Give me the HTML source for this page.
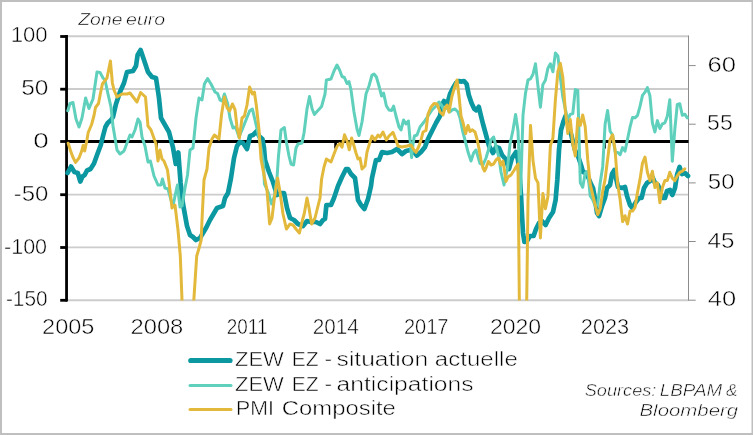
<!DOCTYPE html>
<html><head><meta charset="utf-8"><title>Zone euro</title>
<style>
html,body{margin:0;padding:0;background:#fff;}
body{width:753px;height:435px;overflow:hidden;font-family:"Liberation Sans",sans-serif;}
svg{display:block;}
text{font-family:"Liberation Sans",sans-serif;fill:#000;stroke:#fff;stroke-width:0.5px;}
.tx{filter:grayscale(1);}
</style></head><body>
<svg width="753" height="435" viewBox="0 0 753 435">
<rect x="0" y="0" width="753" height="435" fill="#bfbfbf"/>
<rect x="2" y="2" width="749.5" height="431" fill="#ffffff"/>
<defs><clipPath id="plot"><rect x="60" y="30" width="640" height="270.6"/></clipPath></defs>
<g stroke="#cccccc" stroke-width="1.9"><line x1="67" x2="688.5" y1="36.2" y2="36.2"/><line x1="67" x2="688.5" y1="89.0" y2="89.0"/><line x1="67" x2="688.5" y1="194.6" y2="194.6"/><line x1="67" x2="688.5" y1="247.4" y2="247.4"/><line x1="67" x2="688.5" y1="300.2" y2="300.2"/></g>
<line x1="688.5" x2="688.5" y1="35.5" y2="300.7" stroke="#8c8c8c" stroke-width="1"/>
<g stroke="#8c8c8c" stroke-width="1"><line x1="688.5" x2="695.7" y1="300.2" y2="300.2"/><line x1="688.5" x2="695.7" y1="241.5" y2="241.5"/><line x1="688.5" x2="695.7" y1="182.9" y2="182.9"/><line x1="688.5" x2="695.7" y1="124.2" y2="124.2"/><line x1="688.5" x2="695.7" y1="65.6" y2="65.6"/></g>
<line x1="66.55" x2="66.55" y1="35.0" y2="301.6" stroke="#000" stroke-width="2.8"/>
<g stroke="#000" stroke-width="2.8"><line x1="60.2" x2="67" y1="36.5" y2="36.5"/><line x1="60.2" x2="67" y1="89.2" y2="89.2"/><line x1="60.2" x2="67" y1="141.5" y2="141.5"/><line x1="60.2" x2="67" y1="194.7" y2="194.7"/><line x1="60.2" x2="67" y1="247.5" y2="247.5"/><line x1="60.2" x2="67" y1="300.3" y2="300.3"/></g><g stroke="#000" stroke-width="2.7"><line x1="156.6" x2="156.6" y1="141.5" y2="148.5"/><line x1="246.1" x2="246.1" y1="141.5" y2="148.5"/><line x1="335.6" x2="335.6" y1="141.5" y2="148.5"/><line x1="425.2" x2="425.2" y1="141.5" y2="148.5"/><line x1="514.6" x2="514.6" y1="141.5" y2="148.5"/><line x1="604.6" x2="604.6" y1="141.5" y2="148.5"/></g>
<line x1="66" x2="688.5" y1="141.5" y2="141.5" stroke="#000" stroke-width="2.9"/>
<g clip-path="url(#plot)" fill="none" stroke-linejoin="round" stroke-linecap="round">
<path d="M67.6,173.0 L71.0,166.5 L74.4,172.0 L77.8,173.0 L80.3,181.5 L82.4,176.5 L84.7,175.0 L87.0,170.5 L90.5,169.0 L94.0,163.5 L97.4,154.0 L100.8,145.0 L103.0,136.0 L105.4,127.0 L107.7,123.0 L111.0,120.0 L113.0,117.0 L116.0,104.0 L120.0,92.0 L124.0,83.0 L127.0,72.0 L133.0,71.0 L136.0,66.0 L137.6,55.0 L140.6,50.0 L144.0,60.0 L148.0,72.0 L152.0,77.0 L156.0,78.0 L159.0,98.0 L161.0,118.0 L165.0,125.0 L169.0,132.0 L173.0,147.5 L175.8,164.0 L178.3,152.5 L180.6,183.0 L183.0,204.0 L187.0,226.0 L190.0,235.0 L193.0,237.0 L196.0,240.0 L200.0,238.0 L203.0,233.0 L206.0,228.0 L210.0,220.0 L217.0,208.0 L223.0,206.0 L225.0,198.0 L228.0,193.0 L231.0,178.0 L234.0,158.0 L237.0,146.0 L240.0,142.0 L243.0,143.0 L247.0,149.0 L250.0,136.0 L253.0,135.0 L257.0,131.0 L259.0,136.0 L262.4,139.0 L264.0,148.0 L265.0,160.0 L269.0,172.0 L273.0,182.0 L277.0,195.0 L281.0,193.0 L284.0,193.0 L287.0,208.0 L290.0,218.0 L294.0,220.0 L298.0,224.0 L303.0,226.0 L307.0,221.0 L311.0,222.0 L316.0,222.0 L320.0,224.0 L323.0,220.0 L325.0,219.0 L326.4,205.0 L331.0,205.0 L334.0,198.0 L338.0,186.0 L342.0,177.0 L346.0,169.0 L348.0,169.0 L351.0,174.0 L355.0,178.0 L358.0,200.0 L361.0,205.0 L364.4,209.0 L368.0,199.0 L371.0,186.0 L372.0,178.0 L376.0,160.0 L379.0,160.0 L382.0,152.0 L387.0,153.0 L392.0,152.0 L397.0,149.0 L402.0,154.0 L406.0,151.0 L410.0,150.0 L413.0,151.0 L417.0,155.6 L421.0,152.0 L425.0,147.0 L428.0,139.0 L432.0,131.0 L436.0,123.0 L440.0,116.0 L442.0,105.0 L444.0,101.0 L447.0,105.0 L450.0,94.0 L453.0,88.0 L456.0,83.0 L459.0,81.0 L461.0,81.6 L464.0,81.0 L466.6,84.0 L468.8,95.0 L471.5,103.0 L474.2,108.8 L476.3,110.3 L478.8,106.8 L481.0,116.0 L483.0,124.0 L485.5,133.0 L489.0,146.0 L493.0,153.0 L496.0,147.0 L499.0,148.0 L502.0,155.0 L505.6,159.0 L509.0,169.0 L512.0,158.0 L516.0,152.0 L518.0,160.0 L519.6,175.0 L521.0,195.0 L522.0,215.0 L523.0,233.0 L524.4,242.0 L527.0,241.0 L530.0,236.0 L533.6,236.0 L536.0,229.0 L539.0,223.0 L542.0,221.0 L545.6,225.0 L549.0,218.0 L553.0,212.0 L555.6,200.0 L557.3,180.0 L559.0,150.0 L561.0,130.0 L563.6,121.0 L565.5,116.0 L568.0,123.0 L570.0,130.0 L572.0,138.0 L575.0,150.0 L578.0,156.0 L581.0,165.0 L583.0,172.0 L586.0,173.0 L589.0,179.0 L591.0,184.0 L593.0,188.0 L595.0,199.0 L597.0,213.0 L599.0,216.0 L602.0,206.0 L605.0,198.0 L607.0,188.0 L610.0,185.0 L612.0,174.0 L614.4,170.0 L616.0,178.0 L618.0,187.0 L622.0,188.0 L625.0,187.0 L627.0,196.0 L630.0,205.0 L632.4,208.0 L636.0,202.0 L639.0,198.0 L641.6,198.0 L644.0,188.0 L647.0,183.0 L650.0,181.0 L652.4,177.0 L655.0,183.0 L658.0,185.0 L660.0,190.0 L662.0,198.0 L665.0,198.0 L667.0,191.0 L670.0,190.0 L672.4,195.0 L675.0,188.0 L677.0,175.0 L679.6,167.0 L682.0,174.0 L685.0,173.0 L688.0,176.0" stroke="#0b98a0" stroke-width="4.7"/>
<path d="M67.8,110.7 L70.0,103.5 L73.0,102.5 L76.0,119.0 L79.0,127.0 L82.0,118.0 L85.6,98.0 L89.0,108.5 L93.0,99.0 L97.0,72.0 L100.0,72.4 L103.0,78.0 L105.0,80.0 L108.0,94.0 L111.0,107.0 L113.0,126.0 L117.0,150.0 L120.0,154.0 L124.0,151.0 L127.0,143.0 L130.0,135.0 L132.0,137.0 L135.0,130.0 L138.0,119.0 L140.0,122.0 L142.0,137.0 L145.0,146.0 L148.0,162.0 L150.4,161.0 L154.0,176.0 L158.0,185.0 L161.0,185.0 L162.4,179.0 L165.0,188.0 L168.0,189.0 L171.0,200.0 L173.0,206.0 L175.0,196.0 L177.4,185.0 L180.0,207.0 L182.0,206.0 L185.0,188.0 L187.5,175.0 L190.0,150.0 L193.0,148.0 L196.0,118.0 L199.0,98.0 L202.0,100.0 L204.4,84.0 L207.6,78.6 L211.0,84.0 L215.0,92.0 L217.6,93.5 L220.0,100.0 L222.4,101.0 L224.4,94.0 L227.6,103.5 L230.0,118.0 L233.0,128.0 L235.6,127.0 L239.0,137.0 L242.0,130.0 L246.0,120.0 L249.6,111.0 L252.4,109.0 L255.0,120.0 L258.0,133.0 L261.0,148.0 L263.6,164.0 L264.4,184.0 L268.0,192.0 L271.6,204.0 L274.4,196.0 L277.0,178.0 L278.4,157.0 L281.0,130.0 L284.4,127.6 L286.4,142.0 L289.0,156.0 L291.0,164.0 L293.6,165.0 L296.0,148.0 L298.0,144.0 L302.0,143.0 L304.0,133.0 L307.0,109.0 L309.5,96.5 L312.0,108.5 L314.4,114.5 L317.0,111.5 L321.6,106.5 L325.0,94.0 L326.4,80.0 L331.0,79.0 L334.0,71.0 L337.0,65.0 L339.6,70.0 L342.0,76.5 L344.4,77.5 L347.0,83.5 L349.0,81.5 L351.0,90.0 L354.0,112.0 L357.0,129.0 L359.0,135.5 L362.0,122.0 L366.0,94.0 L369.0,86.0 L372.0,75.0 L374.0,74.0 L376.4,77.0 L379.0,86.0 L381.6,96.0 L383.6,93.0 L386.4,106.0 L389.0,110.0 L391.6,110.5 L393.6,106.0 L396.0,116.0 L399.0,127.0 L401.0,130.0 L403.6,120.0 L406.0,124.0 L408.4,121.0 L410.0,139.0 L411.6,157.6 L413.0,144.0 L414.4,136.0 L417.0,135.0 L420.0,127.0 L424.0,122.0 L428.0,116.0 L432.0,110.0 L436.0,106.0 L439.0,102.0 L442.0,106.0 L444.0,110.0 L447.0,107.0 L449.6,112.0 L452.0,110.0 L455.0,109.0 L458.0,112.0 L460.0,118.0 L462.4,130.0 L465.0,140.0 L468.0,152.0 L471.0,161.0 L473.6,153.0 L476.0,150.0 L478.4,158.0 L480.0,163.5 L483.0,165.0 L486.0,158.0 L489.0,148.0 L491.0,140.0 L493.6,137.0 L496.0,146.0 L499.0,158.0 L501.0,172.0 L504.0,185.0 L506.0,175.0 L507.5,168.0 L510.0,144.0 L513.0,130.0 L515.6,114.4 L518.0,130.8 L520.5,194.1 L523.0,115.2 L525.5,93.2 L528.0,79.9 L530.5,78.9 L533.0,74.2 L535.5,63.8 L538.0,86.6 L540.4,107.2 L542.9,84.4 L545.4,80.2 L547.9,68.3 L550.4,63.7 L552.9,71.8 L555.4,53.1 L557.9,55.9 L560.3,77.2 L562.8,96.7 L565.3,109.0 L567.8,119.6 L570.3,114.4 L572.8,113.5 L575.3,89.6 L577.8,90.5 L580.3,182.7 L582.7,187.2 L585.2,173.0 L587.7,171.4 L590.2,195.8 L592.7,199.8 L595.2,205.9 L597.7,204.8 L600.2,182.7 L602.7,166.7 L605.1,124.2 L607.6,110.4 L610.1,131.2 L612.6,135.0 L615.1,151.7 L617.6,152.4 L620.1,154.7 L622.6,147.6 L625.0,151.2 L627.5,139.4 L630.0,127.2 L632.5,117.5 L635.0,117.8 L637.5,115.4 L640.0,106.4 L642.5,95.4 L645.0,92.2 L647.4,87.6 L649.9,95.7 L652.4,122.9 L654.9,132.0 L657.4,120.6 L659.9,128.6 L662.4,123.8 L664.9,122.8 L667.3,116.2 L669.8,99.8 L672.3,161.3 L674.8,129.6 L677.3,104.5 L679.8,103.7 L682.3,115.3 L684.8,114.2 L687.3,117.8" stroke="#5fd0bc" stroke-width="3"/>
<path d="M68.2,143.2 L70.3,150.0 L72.6,156.5 L75.5,162.4 L79.0,158.0 L81.7,151.0 L83.1,145.5 L84.7,151.0 L87.0,139.5 L88.2,132.5 L91.6,124.5 L94.0,115.5 L95.5,107.5 L98.5,103.5 L100.5,93.0 L102.4,84.0 L107.0,78.0 L110.4,61.0 L112.4,83.0 L114.0,90.0 L117.0,97.0 L122.0,94.0 L127.0,94.0 L130.0,93.0 L137.0,102.0 L140.6,92.5 L145.5,97.0 L146.6,110.0 L148.0,126.0 L151.0,130.0 L156.0,144.0 L158.0,161.0 L160.0,150.0 L162.0,159.0 L164.0,161.0 L167.5,170.0 L169.0,182.0 L172.0,208.0 L175.0,205.0 L178.0,230.0 L180.3,256.0 L182.2,305.0 L193.5,305.0 L196.7,256.0 L199.1,248.0 L201.2,240.0 L202.0,220.0 L204.0,180.0 L207.0,169.0 L209.0,148.0 L212.0,139.0 L214.4,135.0 L219.0,139.0 L221.6,114.0 L224.4,97.0 L227.0,107.5 L229.6,111.0 L232.4,104.0 L235.0,109.5 L237.0,127.0 L239.4,138.0 L242.0,118.0 L244.4,116.0 L247.0,105.0 L249.6,87.0 L252.4,94.0 L254.4,92.0 L256.4,106.0 L259.0,130.0 L261.0,159.0 L264.0,175.0 L267.0,190.0 L269.6,224.0 L272.0,218.0 L274.4,198.0 L277.6,178.0 L280.0,192.0 L283.0,214.0 L286.4,229.0 L290.0,224.0 L293.0,225.0 L296.0,229.0 L299.4,233.0 L302.0,222.0 L304.4,213.0 L307.0,198.0 L309.0,208.0 L311.6,224.0 L315.0,218.0 L318.0,206.0 L320.0,198.0 L321.6,179.0 L324.0,167.0 L326.4,159.0 L331.0,162.0 L334.0,154.0 L337.2,146.0 L339.7,143.6 L342.0,147.2 L344.5,134.8 L347.0,140.8 L349.3,149.8 L351.6,138.0 L353.6,144.5 L356.0,153.0 L358.0,159.0 L360.0,158.0 L362.0,169.0 L365.0,166.0 L367.0,152.0 L370.0,142.0 L372.0,136.0 L375.0,140.0 L378.0,135.0 L380.0,137.0 L383.0,132.0 L386.4,140.0 L389.0,136.0 L393.0,132.4 L396.0,140.0 L398.0,146.0 L402.0,147.0 L407.0,146.0 L411.0,145.0 L414.0,150.0 L416.0,152.4 L419.0,146.0 L421.0,140.0 L423.0,132.0 L426.0,130.5 L428.0,114.0 L431.0,107.0 L434.0,103.6 L437.0,104.0 L440.0,112.0 L443.0,115.0 L445.0,108.0 L447.0,105.0 L449.0,112.0 L452.0,96.0 L455.0,86.0 L457.0,80.0 L459.0,96.0 L461.0,116.0 L463.0,122.5 L465.6,133.5 L468.0,125.5 L470.0,131.5 L472.4,129.8 L475.0,132.0 L477.0,139.0 L479.0,148.5 L481.0,160.0 L483.0,168.0 L484.5,171.0 L486.0,168.0 L488.4,161.5 L491.0,165.0 L493.6,164.0 L496.0,160.0 L498.4,158.0 L501.0,165.0 L503.0,161.0 L504.4,170.0 L506.0,181.5 L508.0,177.0 L511.0,175.0 L514.0,170.5 L516.0,167.0 L518.0,164.1 L520.5,421.0 L523.0,609.9 L525.5,395.2 L528.0,200.5 L530.5,125.4 L533.0,160.6 L535.5,178.2 L538.0,182.9 L540.4,238.0 L542.9,193.5 L545.4,208.7 L547.9,197.0 L550.4,145.4 L552.9,138.3 L555.4,99.6 L557.9,71.5 L560.3,63.3 L562.8,77.3 L565.3,110.2 L567.8,133.6 L570.3,119.6 L572.8,144.2 L575.3,155.9 L577.8,118.4 L580.3,125.4 L582.7,114.9 L585.2,126.6 L587.7,159.4 L590.2,184.1 L592.7,194.6 L595.2,205.2 L597.7,214.6 L600.2,208.7 L602.7,191.1 L605.1,179.4 L607.6,159.4 L610.1,139.5 L612.6,134.8 L615.1,150.1 L617.6,184.1 L620.1,199.3 L622.6,221.6 L625.0,215.7 L627.5,224.0 L630.0,211.1 L632.5,211.1 L635.0,207.5 L637.5,192.3 L640.0,179.4 L642.5,163.0 L645.0,157.1 L647.4,172.3 L649.9,180.6 L652.4,171.2 L654.9,187.6 L657.4,182.9 L659.9,202.8 L662.4,187.6 L664.9,180.6 L667.3,180.6 L669.8,172.3 L672.3,178.2 L674.8,180.6 L677.3,175.9 L679.8,172.3 L682.3,171.2 L684.8,168.8" stroke="#e3b93c" stroke-width="3"/>
</g>
<g class="tx"><g font-size="16" font-style="italic"><text x="78.3" y="24.9" textLength="44.1" lengthAdjust="spacingAndGlyphs">Zone</text><text x="126.1" y="24.9" textLength="39.1" lengthAdjust="spacingAndGlyphs">euro</text></g>
<g font-size="22"><text x="10.7" y="42.4" textLength="36.9" lengthAdjust="spacingAndGlyphs">100</text><text x="21.2" y="95.2" textLength="27.2" lengthAdjust="spacingAndGlyphs">50</text><text x="33.3" y="148.0" textLength="15.5" lengthAdjust="spacingAndGlyphs">0</text><text x="13.8" y="200.8" textLength="34.6" lengthAdjust="spacingAndGlyphs">-50</text><text x="4.0" y="253.6" textLength="43.1" lengthAdjust="spacingAndGlyphs">-100</text><text x="5.9" y="306.4" textLength="41.7" lengthAdjust="spacingAndGlyphs">-150</text><text x="707.4" y="71.6" textLength="28.5" lengthAdjust="spacingAndGlyphs">60</text><text x="707.1" y="130.2" textLength="25.6" lengthAdjust="spacingAndGlyphs">55</text><text x="707.8" y="188.9" textLength="26.7" lengthAdjust="spacingAndGlyphs">50</text><text x="707.5" y="247.5" textLength="26.9" lengthAdjust="spacingAndGlyphs">45</text><text x="707.8" y="306.2" textLength="28.4" lengthAdjust="spacingAndGlyphs">40</text><text x="42.1" y="334.0" textLength="52.3" lengthAdjust="spacingAndGlyphs">2005</text><text x="130.5" y="334.0" textLength="52.8" lengthAdjust="spacingAndGlyphs">2008</text><text x="226.8" y="334.0" textLength="40.6" lengthAdjust="spacingAndGlyphs">2011</text><text x="312.8" y="334.0" textLength="46.0" lengthAdjust="spacingAndGlyphs">2014</text><text x="403.9" y="334.0" textLength="44.5" lengthAdjust="spacingAndGlyphs">2017</text><text x="489.9" y="334.0" textLength="51.3" lengthAdjust="spacingAndGlyphs">2020</text><text x="580.8" y="334.0" textLength="48.4" lengthAdjust="spacingAndGlyphs">2023</text></g></g>
<g fill="none" stroke-linecap="round">
<line x1="190.8" x2="230" y1="360.5" y2="360.5" stroke="#0b98a0" stroke-width="5.2"/>
<line x1="190" x2="231" y1="385.5" y2="385.5" stroke="#5fd0bc" stroke-width="3"/>
<line x1="190" x2="231" y1="409.6" y2="409.6" stroke="#e3b93c" stroke-width="3"/>
</g>
<g font-size="19.5" class="tx"><text x="235.0" y="366.3" textLength="48.8" lengthAdjust="spacingAndGlyphs">ZEW</text><text x="291.7" y="366.3" textLength="26.9" lengthAdjust="spacingAndGlyphs">EZ</text><text x="324.6" y="366.3" textLength="7.6" lengthAdjust="spacingAndGlyphs">-</text><text x="336.6" y="366.3" textLength="91.6" lengthAdjust="spacingAndGlyphs">situation</text><text x="434.8" y="366.3" textLength="83.0" lengthAdjust="spacingAndGlyphs">actuelle</text><text x="235.0" y="390.5" textLength="48.8" lengthAdjust="spacingAndGlyphs">ZEW</text><text x="291.7" y="390.5" textLength="26.9" lengthAdjust="spacingAndGlyphs">EZ</text><text x="324.6" y="390.5" textLength="7.6" lengthAdjust="spacingAndGlyphs">-</text><text x="336.6" y="390.5" textLength="137.0" lengthAdjust="spacingAndGlyphs">anticipations</text><text x="236.0" y="414.8" textLength="37.8" lengthAdjust="spacingAndGlyphs">PMI</text><text x="281.8" y="414.8" textLength="114.1" lengthAdjust="spacingAndGlyphs">Composite</text></g>
<g font-size="16" font-style="italic" class="tx"><text x="584.7" y="395.6" textLength="71.7" lengthAdjust="spacingAndGlyphs">Sources:</text><text x="659.8" y="395.6" textLength="62.3" lengthAdjust="spacingAndGlyphs">LBPAM</text><text x="726.0" y="395.6" textLength="11.5" lengthAdjust="spacingAndGlyphs">&amp;</text><text x="639.5" y="415.5" textLength="98.6" lengthAdjust="spacingAndGlyphs">Bloomberg</text></g>
</svg>
</body></html>
